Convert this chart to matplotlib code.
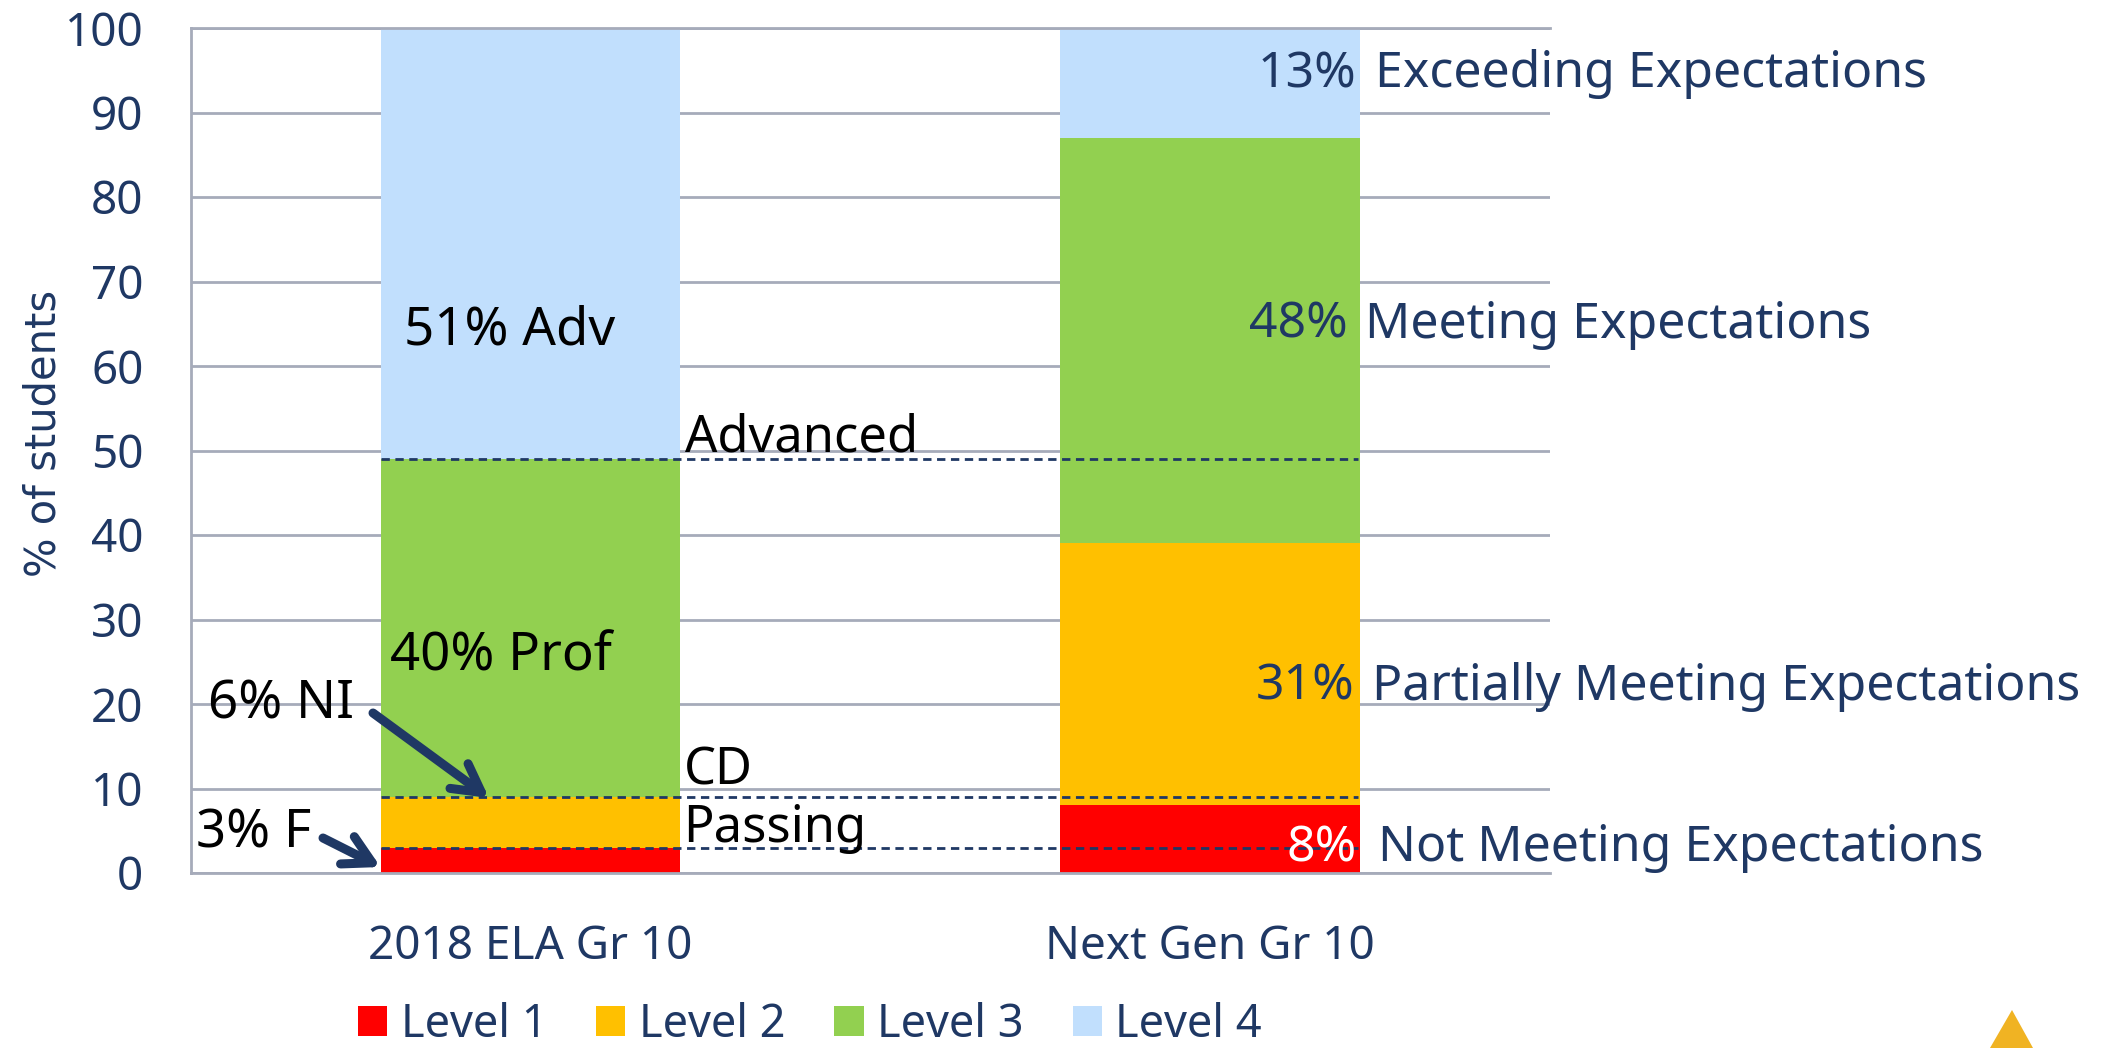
import matplotlib
matplotlib.use('Agg')
import matplotlib.pyplot as plt
from matplotlib.patches import Polygon

categories = ['2018 ELA Gr 10', 'Next Gen Gr 10']
levels = ['Level 1', 'Level 2', 'Level 3', 'Level 4']
level_values = [[3, 8], [6, 31], [40, 48], [51, 13]]
level_colors = ['#FF0000', '#FFC000', '#92D050', '#C1DFFD']
cut_scores = [3, 9, 49]
y_ticks = list(range(0, 101, 10))

NAVY = '#1F3864'
W, H = 2108, 1048

plt.rcParams['font.family'] = ['Noto Sans', 'DejaVu Sans']

def fx(px):
	return px / W

def fy(py):
	return 1 - py / H

fig = plt.figure(figsize = (W / 100, H / 100), dpi = 100, facecolor = 'white')
ax = fig.add_axes([fx(190.6), fy(873), (1550 - 190.6) / W, (873 - 28) / H])

bottom = [0, 0]
for name, vals, col in zip(levels, level_values, level_colors):
	ax.bar(categories, vals, width = 0.441, bottom = bottom, color = col, label = name, zorder = 2)
	bottom = [b + v for b, v in zip(bottom, vals)]

ax.set_xlim(-0.5, 1.5)
ax.set_ylim(0, 100)
ax.set_yticks(y_ticks)
ax.grid(axis = 'y', color = '#A6ABBA', linewidth = 2, zorder = 1)
ax.set_axisbelow(True)
ax.spines['right'].set_visible(False)
for side in ['left', 'bottom', 'top']:
	ax.spines[side].set_color('#A6ABBA')
	ax.spines[side].set_linewidth(2)
ax.tick_params(axis = 'y', length = 0, pad = 34, labelsize = 33, labelcolor = NAVY)
ax.tick_params(axis = 'x', length = 0, pad = 37, labelsize = 33, labelcolor = NAVY)

# cut score lines run across both bars
x_left = 0 - 0.441 / 2
x_right = 1 + 0.441 / 2 - 0.003
for c in cut_scores:
	ax.plot([x_left, x_right], [c, c], color = NAVY, linewidth = 2, linestyle = (0, (3, 2)), zorder = 3)

fig.text(fx(44), fy(433), '% of students', rotation = 90, ha = 'center', va = 'center',
	color = NAVY, fontsize = 30, family = ['DejaVu Sans'])

# right side labels
side_labels = [('Exceeding Expectations', 1375, 74), ('Meeting Expectations', 1365, 325),
	('Partially Meeting Expectations', 1372, 687), ('Not Meeting Expectations', 1378, 848)]
for txt, x, y in side_labels:
	fig.text(fx(x), fy(y), txt, ha = 'left', va = 'center', color = NAVY, fontsize = 36, zorder = 5)

pct_labels = [('13%', 1356, 74, NAVY), ('48%', 1348, 325, NAVY), ('31%', 1355, 687, NAVY), ('8%', 1357, 848, 'white')]
for txt, x, y, col in pct_labels:
	fig.text(fx(x), fy(y), txt, ha = 'right', va = 'center', color = col, fontsize = 36, zorder = 5)

black_labels = [('51% Adv', 404, 331, 38), ('40% Prof', 390, 657, 38), ('6% NI', 208, 705, 38), ('3% F', 196, 834, 38),
	('Advanced', 685, 438, 36.5), ('CD', 684, 771, 36.5), ('Passing', 683, 829, 36.5)]
for txt, x, y, size in black_labels:
	fig.text(fx(x), fy(y), txt, ha = 'left', va = 'center', color = 'black', fontsize = size, zorder = 5)

arrows = [((373, 713), (489, 798)), ((323, 838), (380.6, 867))]
for tail, tip in arrows:
	ax.annotate('', xy = (fx(tip[0]), fy(tip[1])), xytext = (fx(tail[0]), fy(tail[1])),
		xycoords = 'figure fraction', textcoords = 'figure fraction', zorder = 6,
		arrowprops = dict(arrowstyle = '->,head_length=1.0,head_width=0.55', mutation_scale = 20, color = NAVY,
			linewidth = 6.5, shrinkA = 0, shrinkB = 0))

ax.legend(loc = 'lower left', bbox_to_anchor = (fx(358), fy(1048)), bbox_transform = fig.transFigure, ncols = 4,
	frameon = False, fontsize = 32.5, labelcolor = NAVY, handlelength = 0.65, handleheight = 0.65,
	handletextpad = 0.3, columnspacing = 1.08, borderpad = 0, borderaxespad = 0)

fig.add_artist(Polygon([[fx(1990), fy(1048)], [fx(2012), fy(1010)], [fx(2033), fy(1048)]],
	closed = True, transform = fig.transFigure, facecolor = '#F0B323', edgecolor = 'none'))

fig.savefig('out.png', dpi = 100)
